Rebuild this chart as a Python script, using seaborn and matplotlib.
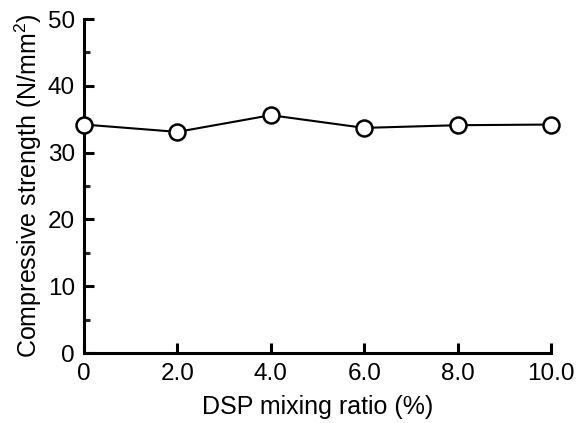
import matplotlib
matplotlib.use("Agg")
import matplotlib.pyplot as plt
import seaborn as sns
import pandas as pd
from matplotlib.ticker import MultipleLocator

ratio = [0, 2, 4, 6, 8, 10]
strength = [34.2, 33.1, 35.6, 33.7, 34.1, 34.2]
xtick_labels = ["0", "2.0", "4.0", "6.0", "8.0", "10.0"]

sns.set_theme(style="ticks")
plt.rcParams['font.family'] = ['Liberation Sans', 'DejaVu Sans']
plt.rcParams['mathtext.default'] = 'regular'

df = pd.DataFrame({"ratio": ratio, "strength": strength})

fig = plt.figure(figsize=(5.77, 4.23), dpi=100)
ax = fig.add_axes([84/577, 1-353/423, (551-84)/577, (353-19)/423])
sns.lineplot(data=df, x="ratio", y="strength", ax=ax, color="black", linewidth=1.5,
             marker="o", markersize=11.5, markerfacecolor="white", markeredgecolor="black",
             markeredgewidth=1.8, clip_on=False, zorder=5)

ax.set_xlim(0, 10)
ax.set_ylim(0, 50)
ax.set_xticks(ratio)
ax.set_xticklabels(xtick_labels)
ax.yaxis.set_major_locator(MultipleLocator(10))
ax.yaxis.set_minor_locator(MultipleLocator(5))
for s in ["top", "right"]:
    ax.spines[s].set_visible(False)
for s in ["left", "bottom"]:
    ax.spines[s].set_linewidth(2.2)
    ax.spines[s].set_color("black")
ax.tick_params(axis="both", which="major", direction="in", length=7.5, width=2.2,
               labelsize=17.5, colors="black")
ax.tick_params(axis="x", which="major", pad=7.5)
ax.tick_params(axis="y", which="major", pad=6.5)
ax.tick_params(axis="y", which="minor", direction="in", length=4.5, width=2.2)
ax.set_xlabel("DSP mixing ratio (%)", fontsize=18, color="black", labelpad=7)
ax.set_ylabel("Compressive strength (N/mm$^{2}$)", fontsize=18, color="black", labelpad=2.5)

fig.savefig("out.png", dpi=100)
